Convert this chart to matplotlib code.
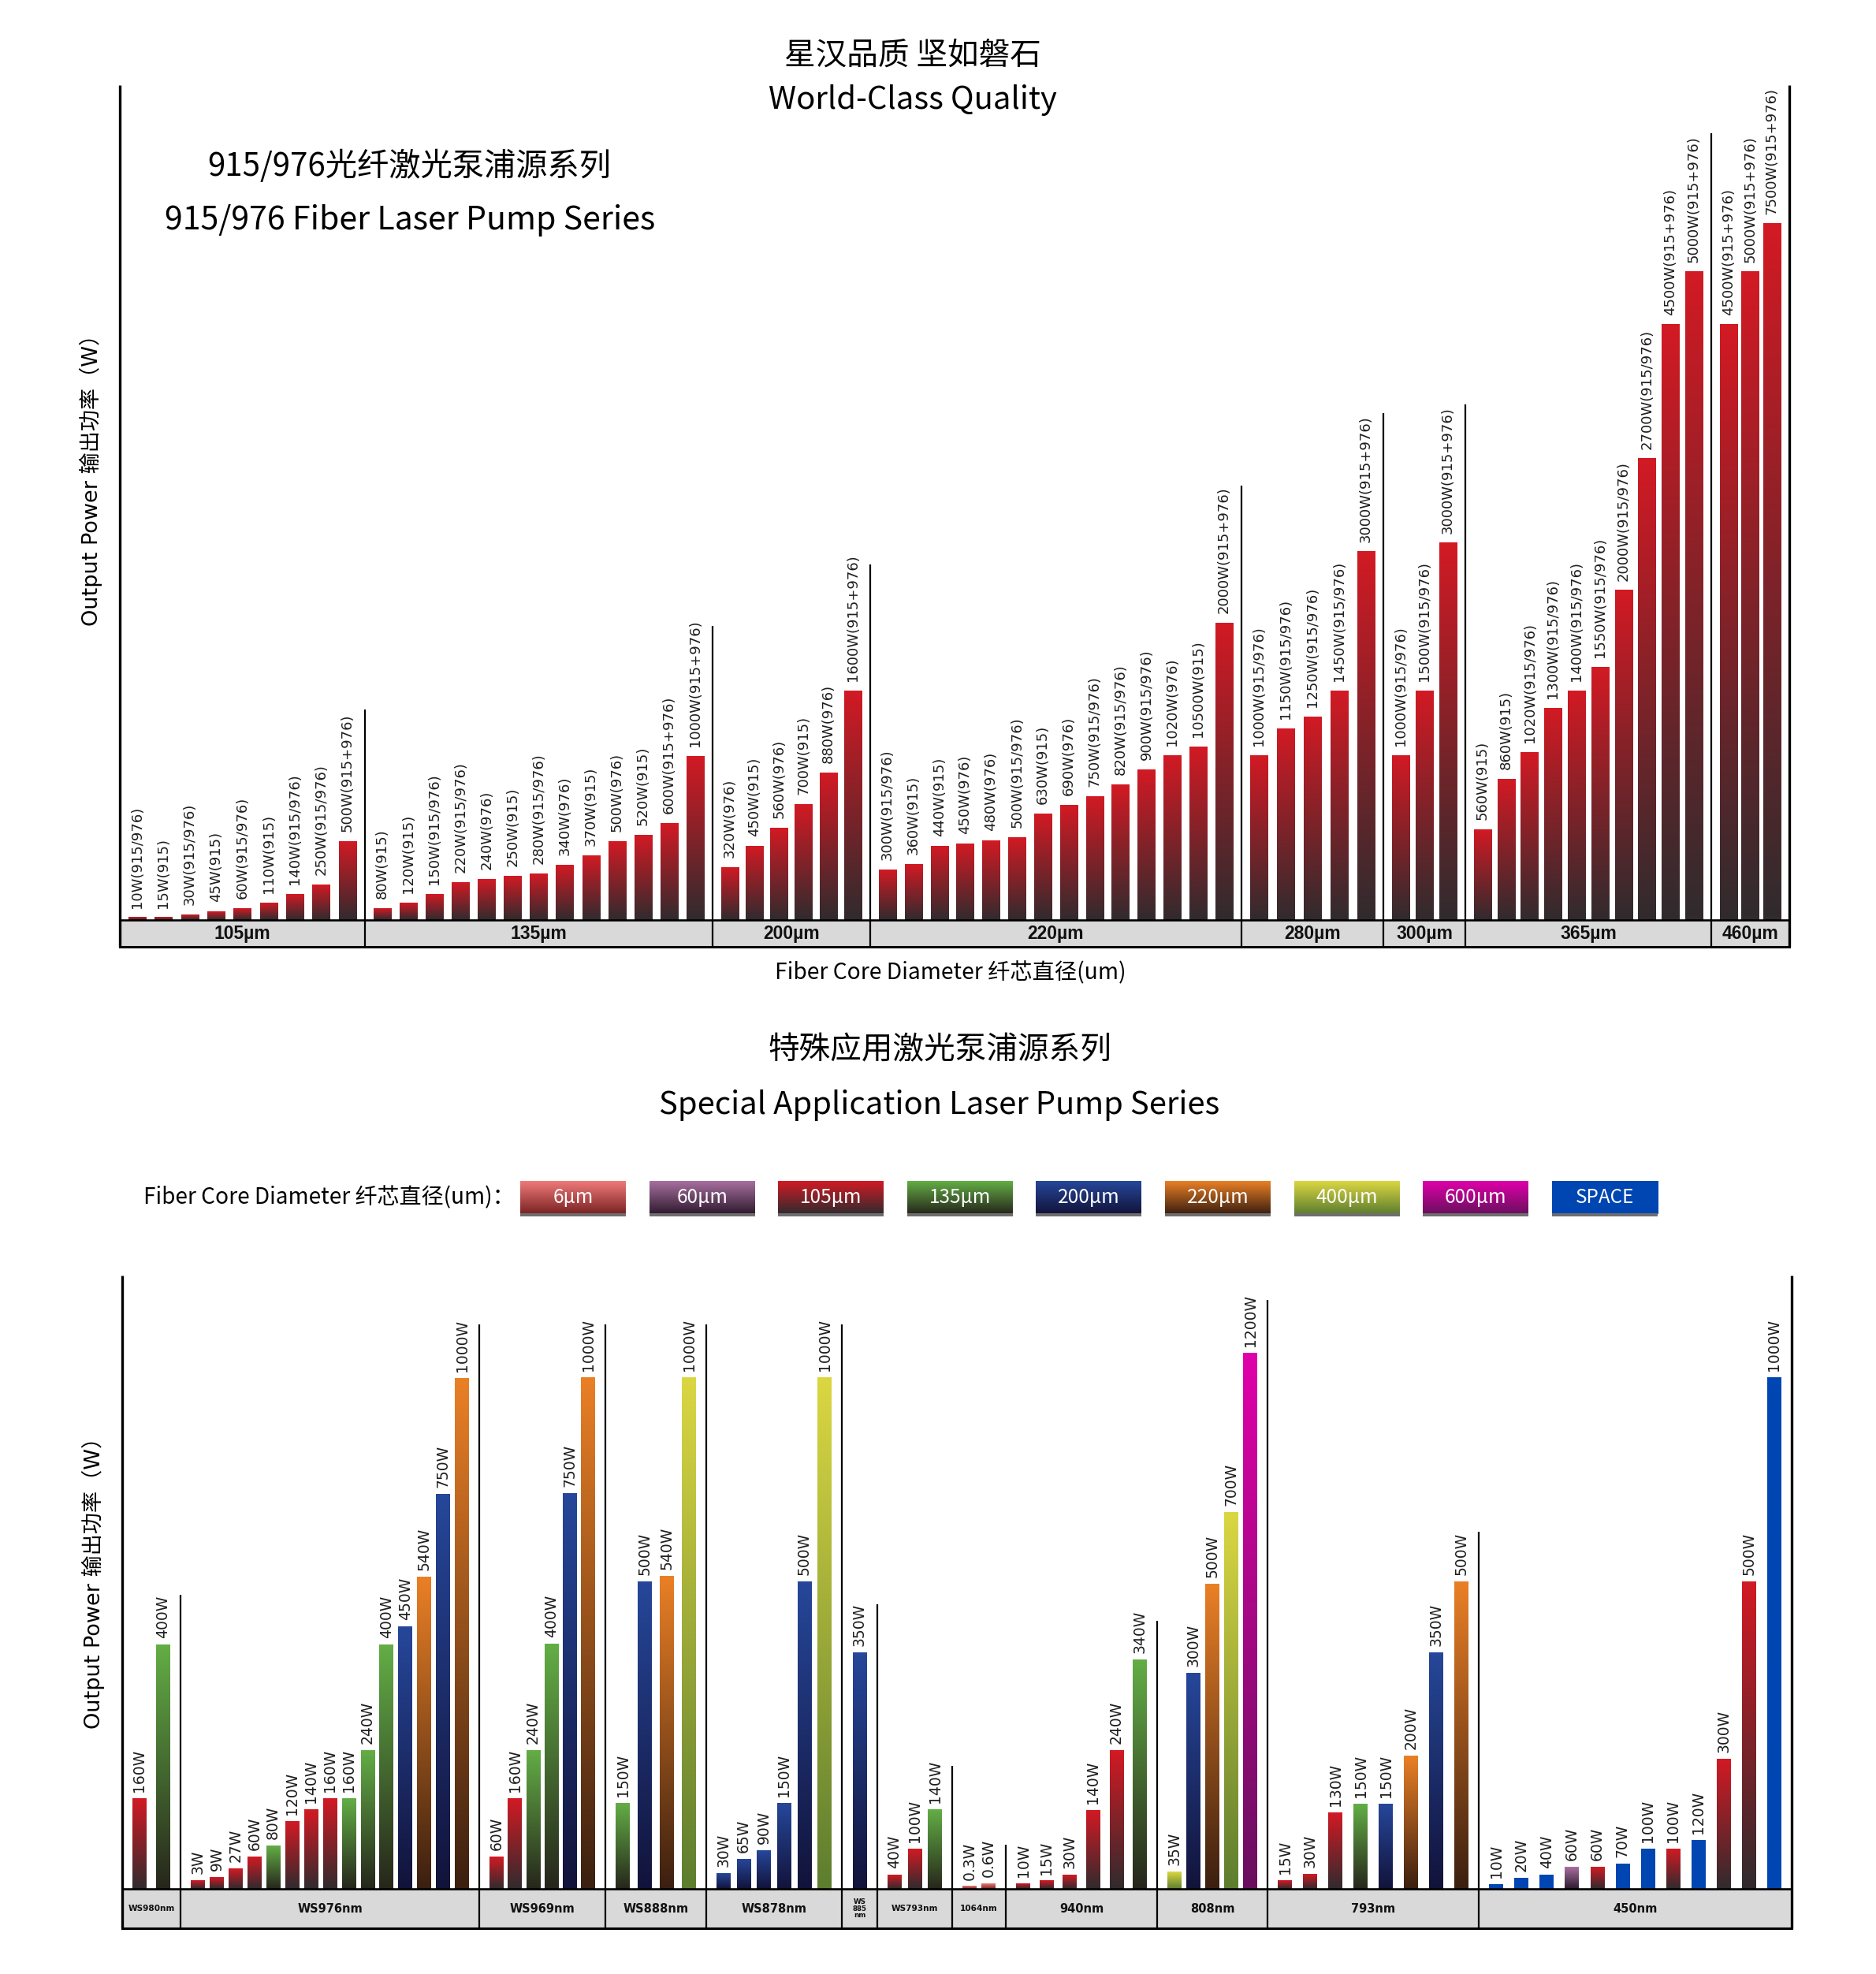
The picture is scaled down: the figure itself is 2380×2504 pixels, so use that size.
import numpy as np
import matplotlib
matplotlib.use("Agg")
import matplotlib.pyplot as plt
from matplotlib.colors import LinearSegmentedColormap
from matplotlib.patches import Rectangle

# ---------------- data ----------------
# 915/976 fibre laser pump series: heights are read off the picture (px above baseline)
top_groups = ["105µm", "135µm", "200µm", "220µm", "280µm", "300µm", "365µm", "460µm"]
top_labels = [
    ["10W(915/976)", "15W(915)", "30W(915/976)", "45W(915)", "60W(915/976)", "110W(915)",
     "140W(915/976)", "250W(915/976)", "500W(915+976)"],
    ["80W(915)", "120W(915)", "150W(915/976)", "220W(915/976)", "240W(976)", "250W(915)",
     "280W(915/976)", "340W(976)", "370W(915)", "500W(976)", "520W(915)", "600W(915+976)",
     "1000W(915+976)"],
    ["320W(976)", "450W(915)", "560W(976)", "700W(915)", "880W(976)", "1600W(915+976)"],
    ["300W(915/976)", "360W(915)", "440W(915)", "450W(976)", "480W(976)", "500W(915/976)",
     "630W(915)", "690W(976)", "750W(915/976)", "820W(915/976)", "900W(915/976)", "1020W(976)",
     "10500W(915)", "2000W(915+976)"],
    ["1000W(915/976)", "1150W(915/976)", "1250W(915/976)", "1450W(915/976)", "3000W(915+976)"],
    ["1000W(915/976)", "1500W(915/976)", "3000W(915+976)"],
    ["560W(915)", "860W(915)", "1020W(915/976)", "1300W(915/976)", "1400W(915/976)",
     "1550W(915/976)", "2000W(915/976)", "2700W(915/976)", "4500W(915+976)", "5000W(915+976)"],
    ["4500W(915+976)", "5000W(915+976)", "7500W(915+976)"],
]
top_heights = [
    [3.3, 3.3, 7, 11, 15, 22, 33, 45, 100],
    [15, 22, 33, 48, 52, 56, 59, 70, 82, 100, 108, 123, 208],
    [67, 94, 117, 147, 187, 291],
    [64, 71, 94, 97, 101, 105, 135, 146, 157, 172, 191, 209, 220, 377],
    [209, 243, 258, 291, 467],
    [209, 291, 478],
    [115, 179, 213, 269, 291, 321, 418, 585, 755, 822],
    [755, 822, 883],
]

# special application series
special_groups = ["WS980nm", "WS976nm", "WS969nm", "WS888nm", "WS878nm", "WS\n885\nnm",
                  "WS793nm", "1064nm", "940nm", "808nm", "793nm", "450nm"]
special_labels = [
    ["160W", "400W"],
    ["3W", "9W", "27W", "60W", "80W", "120W", "140W", "160W", "160W", "240W", "400W", "450W",
     "540W", "750W", "1000W"],
    ["60W", "160W", "240W", "400W", "750W", "1000W"],
    ["150W", "500W", "540W", "1000W"],
    ["30W", "65W", "90W", "150W", "500W", "1000W"],
    ["350W"],
    ["40W", "100W", "140W"],
    ["0.3W", "0.6W"],
    ["10W", "15W", "30W", "140W", "240W", "340W"],
    ["35W", "300W", "500W", "700W", "1200W"],
    ["15W", "30W", "130W", "150W", "150W", "200W", "350W", "500W"],
    ["10W", "20W", "40W", "60W", "60W", "70W", "100W", "100W", "120W", "300W", "500W", "1000W"],
]
special_heights = [
    [115, 310],
    [11, 15, 26, 41, 55, 86, 101, 115, 115, 176, 310, 333, 396, 501, 648],
    [41, 115, 176, 311, 502, 649],
    [109, 390, 397, 649],
    [20, 38, 49, 109, 390, 649],
    [300],
    [18, 51, 101],
    [3.3, 6.6],
    [6.6, 10.4, 18, 100, 176, 291],
    [22, 274, 387, 478, 680],
    [11, 19, 97, 108, 108, 169, 300, 390],
    [6, 14, 18, 28, 28, 32, 51, 51, 62, 165, 390, 649],
]
special_fibre = [
    ["105µm", "135µm"],
    ["105µm", "105µm", "105µm", "105µm", "135µm", "105µm", "105µm", "105µm", "135µm", "135µm",
     "135µm", "200µm", "220µm", "200µm", "220µm"],
    ["105µm", "105µm", "135µm", "135µm", "200µm", "220µm"],
    ["135µm", "200µm", "220µm", "400µm"],
    ["200µm", "200µm", "200µm", "200µm", "200µm", "400µm"],
    ["200µm"],
    ["105µm", "105µm", "135µm"],
    ["6µm", "6µm"],
    ["105µm", "105µm", "105µm", "105µm", "105µm", "135µm"],
    ["400µm", "200µm", "220µm", "400µm", "600µm"],
    ["105µm", "105µm", "105µm", "135µm", "200µm", "220µm", "200µm", "220µm"],
    ["SPACE", "SPACE", "SPACE", "60µm", "105µm", "SPACE", "SPACE", "105µm", "SPACE", "105µm",
     "105µm", "SPACE"],
]

legend_keys = ["6µm", "60µm", "105µm", "135µm", "200µm", "220µm", "400µm", "600µm", "SPACE"]
# (top colour, bottom colour) of each gradient
fibre_colours = {
    "6µm": ("#f07a7a", "#7a2222"),
    "60µm": ("#a8709f", "#2e1a2f"),
    "105µm": ("#d21a24", "#302b2e"),
    "135µm": ("#63ae46", "#26261b"),
    "200µm": ("#26479a", "#12133a"),
    "220µm": ("#ea8026", "#3b1f10"),
    "400µm": ("#dbd742", "#5d7d2f"),
    "600µm": ("#e000aa", "#6a0f5e"),
    "SPACE": ("#0046b2", "#0046b2"),
}

# ---------------- layout (px of the 2380x2504 picture) ----------------
W, H = 2380, 2504
TOP_SPANS = [311, 441, 200, 471, 180, 104, 312, 99]
TOP_SEPS = [267, 373, 451, 551, 643, 654, 998]
BOT_SPANS = [74, 379, 160, 128, 172, 45, 95, 68, 192, 140, 268, 397]
BOT_SEPS = [373, 716, 716, 716, 716, 361, 156, 56, 340, 747, 453]
BOT_BAND_SIZES = [7.6, 10.5, 10.5, 10.5, 10.5, 6.3, 7.6, 7.6, 10.5, 10.5, 10.5, 10.5]
MARGIN = 22
GRAD = np.linspace(0, 1, 256)[:, None]
CJK = ["Noto Sans CJK SC", "DejaVu Sans"]
LAT_CJK = ["DejaVu Sans", "Noto Sans CJK SC"]

fig = plt.figure(figsize=(W / 100, H / 100), dpi=100)
fig.patch.set_facecolor("white")


def px_axes(left, top, right, bottom):
    return fig.add_axes([left / W, 1 - bottom / H, (right - left) / W, (bottom - top) / H])


def grad_cmap(key):
    top, bot = fibre_colours[key]
    return LinearSegmentedColormap.from_list(key, [bot, top])


def draw_panel(ax, groups, labels, heights, fibres, spans, seps, edge_h, band_h,
               bar_w, gap, lab_size, band_font, band_sizes):
    total = sum(spans)
    starts = np.concatenate([[0], np.cumsum(spans)[:-1]])
    xs, hs, labs, cols = [], [], [], []
    for s, span, lab, hh, ff in zip(starts, spans, labels, heights, fibres):
        n = len(hh)
        if n == 1:
            gx = [s + span / 2]
        else:
            gx = np.linspace(s + MARGIN, s + span - MARGIN, n)
        xs += list(gx)
        hs += list(hh)
        labs += lab
        cols += ff

    bars = ax.bar(xs, hs, width=bar_w, color="none", zorder=2)
    for p, c in zip(bars.patches, cols):
        x0, w, h = p.get_x(), p.get_width(), p.get_height()
        ax.imshow(GRAD, cmap=grad_cmap(c), origin="lower", aspect="auto",
                  extent=(x0, x0 + w, 0, h), zorder=2, interpolation="bilinear")
    for x, h, t in zip(xs, hs, labs):
        ax.text(x, h + gap, t, rotation=90, ha="center", va="bottom",
                fontsize=lab_size, color="#1e1e1e", family="DejaVu Sans")

    # category band under the bars
    ax.add_patch(Rectangle((0, -band_h), total, band_h, facecolor="#d9d9d9",
                           edgecolor="none", zorder=1))
    ax.plot([0, total], [0, 0], color="black", lw=1.9, clip_on=False, zorder=3)
    ax.plot([0, total], [-band_h, -band_h], color="black", lw=2.2, clip_on=False, zorder=3)
    bounds = np.cumsum(spans)[:-1]
    ax.vlines(bounds, -band_h, seps, colors="black", lw=1.6, clip_on=False, zorder=3)
    ax.vlines([0, total], -band_h, edge_h, colors="black", lw=2.4, clip_on=False, zorder=3)
    for s, span, g, fs in zip(starts, spans, groups, band_sizes):
        ax.text(s + span / 2, -band_h / 2, g, ha="center", va="center", fontsize=fs,
                fontweight="bold", family=band_font, linespacing=0.95, color="#111111")

    ax.set_xlim(0, total)
    ax.set_ylim(-band_h, edge_h)
    ax.axis("off")


# overlay for free texts and the legend
ov = fig.add_axes([0, 0, 1, 1])
ov.set_xlim(0, W)
ov.set_ylim(H, 0)
ov.axis("off")

# ---- upper chart ----
ax1 = px_axes(152, 1167 - 1059, 152 + sum(TOP_SPANS), 1167 + 34)
draw_panel(ax1, top_groups, top_labels, top_heights,
           [["105µm"] * len(h) for h in top_heights], TOP_SPANS, TOP_SEPS,
           1059, 34, 22.3, 12, 13, "Liberation Sans", [16.5] * len(top_groups))

# ---- lower chart ----
ax2 = px_axes(155, 2396 - 778, 155 + sum(BOT_SPANS), 2396 + 50)
draw_panel(ax2, special_groups, special_labels, special_heights, special_fibre,
           BOT_SPANS, BOT_SEPS, 778, 50, 17.6, 8, 13.5, "DejaVu Sans", BOT_BAND_SIZES)

# ---- titles and axis texts ----
ov.text(1158, 71, "星汉品质 坚如磐石", ha="center", va="center", fontsize=28.5, family=CJK)
ov.text(1158, 127, "World-Class Quality", ha="center", va="center", fontsize=28.8, family=CJK)
ov.text(519, 211, "915/976光纤激光泵浦源系列", ha="center", va="center", fontsize=29, family=CJK)
ov.text(520, 280, "915/976 Fiber Laser Pump Series", ha="center", va="center", fontsize=29.6,
        family=CJK)
ov.text(115, 602, "Output Power 输出功率（W）", rotation=90, ha="center", va="center",
        fontsize=19.5, family=LAT_CJK)
ov.text(1206, 1234, "Fiber Core Diameter 纤芯直径(um)", ha="center", va="center", fontsize=20.3,
        family=CJK)
ov.text(1192, 1332, "特殊应用激光泵浦源系列", ha="center", va="center", fontsize=28.5, family=CJK)
ov.text(1192, 1402, "Special Application Laser Pump Series", ha="center", va="center",
        fontsize=28.8, family=CJK)
ov.text(118, 2001, "Output Power 输出功率（W）", rotation=90, ha="center", va="center",
        fontsize=19.5, family=LAT_CJK)

# ---- legend ----
ov.text(182, 1519, "Fiber Core Diameter 纤芯直径(um)：", ha="left", va="center", fontsize=20.2,
        family=CJK)
for i, key in enumerate(legend_keys):
    x0 = 660 + i * 163.6
    ov.add_patch(Rectangle((x0, 1539), 134, 4, facecolor="#6e6e6e", edgecolor="none"))
    ov.imshow(GRAD, cmap=grad_cmap(key), origin="lower", aspect="auto",
              extent=(x0, x0 + 134, 1540, 1498), interpolation="bilinear")
    ov.text(x0 + 67, 1519, key, ha="center", va="center", fontsize=17.5, color="white",
            family=CJK)
ov.set_xlim(0, W)
ov.set_ylim(H, 0)

fig.savefig("out.png", dpi=100, facecolor="white")
